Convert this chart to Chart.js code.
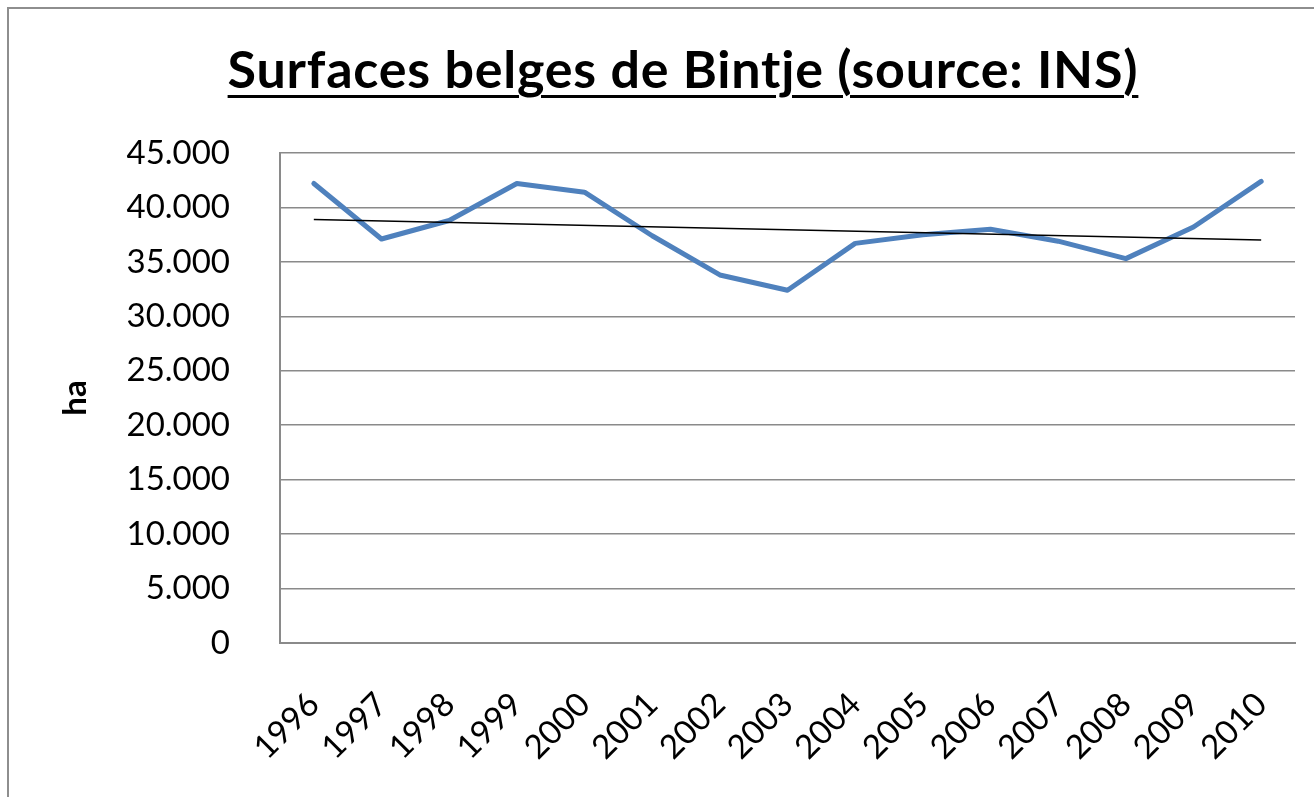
<!DOCTYPE html>
<html>
<head>
<meta charset="utf-8">
<script src="https://cdn.jsdelivr.net/npm/chart.js@4.4.0/dist/chart.umd.min.js"></script>
<style>
  html, body { margin: 0; padding: 0; background: #fff; }
  body { width: 1314px; height: 797px; overflow: hidden; position: relative; }
  #frame {
    position: absolute; left: 7px; top: 7px; width: 1400px; height: 900px;
    border-left: 2px solid #8e8e8e; border-top: 2px solid #8e8e8e;
  }
  #title {
    position: absolute; left: 0; top: 37px; width: 1366px; text-align: center;
    font-family: Lato, sans-serif; font-weight: bold; font-size: 52px; line-height: 1.2;
    letter-spacing: 0.8px;
    color: #000; text-decoration: underline; text-decoration-thickness: 3px;
    text-underline-offset: 7px; white-space: nowrap;
  }
  #wrap { position: absolute; left: 0; top: 0; width: 1314px; height: 797px; }
</style>
</head>
<body>
<div id="frame"></div>
<div id="title">Surfaces belges de Bintje (source: INS)</div>
<div id="wrap"><canvas id="chart" width="1314" height="797"></canvas></div>
<script>
const years = ['1996', '1997', '1998', '1999', '2000', '2001', '2002', '2003',
  '2004', '2005', '2006', '2007', '2008', '2009', '2010'];
const surfaces = [42200, 37100, 38800, 42200, 41400, 37400, 33800, 32400,
  36700, 37500, 38000, 36900, 35300, 38200, 42400];
const trendYears = ['1996', '2010'];
const trendValues = [38900, 37000];
const yTickLabels = ['0', '5.000', '10.000', '15.000', '20.000', '25.000',
  '30.000', '35.000', '40.000', '45.000'];

const gridColor = '#8a8a8a';
const tickFont = { family: 'Lato, sans-serif', size: 33 };

const ctx = document.getElementById('chart').getContext('2d');
const chart = new Chart(ctx, {
  type: 'line',
  data: {
    labels: years,
    datasets: [
      {
        label: 'Surface',
        data: surfaces,
        borderColor: '#4f81bd',
        borderWidth: 5,
        borderJoinStyle: 'round',
        borderCapStyle: 'round',
        pointRadius: 0,
        tension: 0,
        order: 2,
      },
      {
        label: 'Tendance',
        data: trendYears.map((year, i) => ({ x: year, y: trendValues[i] })),
        borderColor: '#000',
        borderWidth: 1.5,
        pointRadius: 0,
        tension: 0,
        order: 1,
      },
    ],
  },
  options: {
    responsive: false,
    animation: false,
    devicePixelRatio: 1,
    layout: { padding: { top: 153, right: 19, left: 0, bottom: 0 } },
    plugins: {
      legend: { display: false },
      tooltip: { enabled: false },
    },
    scales: {
      x: {
        offset: true,
        grid: { display: false, drawTicks: false },
        border: { display: true, color: gridColor, width: 2 },
        ticks: {
          autoSkip: false,
          minRotation: 45,
          maxRotation: 45,
          padding: 42,
          color: '#000',
          font: tickFont,
        },
        afterFit: scale => {
          scale.height = 154;
          scale.paddingLeft = 0;
          scale.paddingRight = 0;
        },
      },
      y: {
        min: 0,
        max: 45000,
        grid: { color: gridColor, lineWidth: 1.5, drawTicks: false },
        border: { display: true, color: gridColor, width: 2 },
        ticks: {
          stepSize: 5000,
          padding: 50,
          color: '#000',
          font: tickFont,
          callback: (value, index) => yTickLabels[index],
        },
        title: {
          display: true,
          text: 'ha',
          color: '#000',
          font: { family: 'Lato, sans-serif', size: 33, weight: 'bold' },
          padding: { top: 56, bottom: 0 },
        },
        afterFit: scale => { scale.width = 280; },
      },
    },
  },
});
</script>
</body>
</html>
